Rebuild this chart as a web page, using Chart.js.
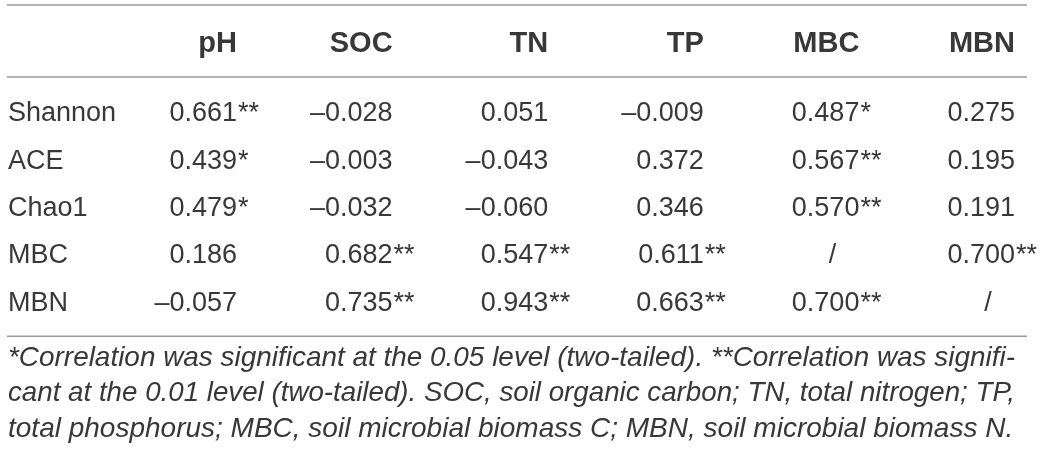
<!DOCTYPE html>
<html>
<head>
<meta charset="utf-8">
<script src="https://cdn.jsdelivr.net/npm/chart.js@4.4.0/dist/chart.umd.min.js"></script>
<style>
  html, body { margin: 0; padding: 0; background: #ffffff; }
  #wrap { width: 1042px; height: 460px; position: relative; }
</style>
</head>
<body>
<div id="wrap"><canvas id="myChart"></canvas></div>
<script>
'use strict';
/*---------------------------------*/
/*-------------Table Data----------*/
/*---------------------------------*/
let colLabels = ['pH', 'SOC', 'TN', 'TP', 'MBC', 'MBN'];
let rowLabels = ['Shannon', 'ACE', 'Chao1', 'MBC', 'MBN'];

// correlation values per row (null = same variable, shown as "/")
let shannonVals = [0.661, -0.028, 0.051, -0.009, 0.487, 0.275];
let aceVals = [0.439, -0.003, -0.043, 0.372, 0.567, 0.195];
let chao1Vals = [0.479, -0.032, -0.060, 0.346, 0.570, 0.191];
let mbcVals = [0.186, 0.682, 0.547, 0.611, null, 0.700];
let mbnVals = [-0.057, 0.735, 0.943, 0.663, 0.700, null];

// significance marks per row
let shannonSig = ['**', '', '', '', '*', ''];
let aceSig = ['*', '', '', '', '**', ''];
let chao1Sig = ['*', '', '', '', '**', ''];
let mbcSig = ['', '**', '**', '**', '', '**'];
let mbnSig = ['', '**', '**', '**', '**', ''];

let footnoteLines = [
  '*Correlation was significant at the 0.05 level (two-tailed). **Correlation was signifi-',
  'cant at the 0.01 level (two-tailed). SOC, soil organic carbon; TN, total nitrogen; TP,',
  'total phosphorus; MBC, soil microbial biomass C; MBN, soil microbial biomass N.'
];

let allVals = [shannonVals, aceVals, chao1Vals, mbcVals, mbnVals];
let allSig = [shannonSig, aceSig, chao1Sig, mbcSig, mbnSig];

/*---------------------------------*/
/*-------------Styling-------------*/
/*---------------------------------*/
const FONT = "'Liberation Sans', Arial, Helvetica, sans-serif";
const TEXT_COLOR = '#383838';
const RULE_COLOR = '#9a9a9a';

/*---------------------------------*/
/*------Datasets (one per row)-----*/
/*---------------------------------*/
let datasets = [];
for (let i = 0; i < rowLabels.length; i++) {
  let points = [];
  for (let j = 0; j < colLabels.length; j++) {
    points.push({ x: colLabels[j], y: i });
  }
  datasets.push({
    label: rowLabels[i],
    data: points,
    cellValues: allVals[i],
    cellSig: allSig[i],
    pointRadius: 0,
    pointHoverRadius: 0,
    showLine: false
  });
}

/*---------------------------------*/
/*--------Cell + Rule Plugin-------*/
/*---------------------------------*/
const tablePlugin = {
  id: 'tablePlugin',
  afterDatasetsDraw(chart) {
    const ctx = chart.ctx;
    ctx.save();
    ctx.font = '27px ' + FONT;
    ctx.fillStyle = TEXT_COLOR;
    ctx.textBaseline = 'middle';
    chart.data.datasets.forEach((ds, i) => {
      const meta = chart.getDatasetMeta(i);
      meta.data.forEach((pt, j) => {
        const v = ds.cellValues[j];
        if (v === null) {
          // diagonal cell
          ctx.textAlign = 'center';
          ctx.fillText('/', pt.x - 27, pt.y);
          return;
        }
        // numeric part right-aligned on the column tick, stars trail after it
        let txt = Math.abs(v).toFixed(3);
        if (v < 0) txt = '\u2013' + txt;
        ctx.textAlign = 'right';
        ctx.fillText(txt, pt.x, pt.y);
        if (ds.cellSig[j]) {
          ctx.textAlign = 'left';
          ctx.fillText(ds.cellSig[j], pt.x + 1, pt.y);
        }
      });
    });

    // horizontal rules: top of table, under header, bottom of table
    const x0 = 7;
    const x1 = chart.width - 15;
    ctx.strokeStyle = RULE_COLOR;
    ctx.lineWidth = 1.5;
    [chart.scales.x.top, chart.chartArea.top, chart.chartArea.bottom].forEach((y) => {
      ctx.beginPath();
      ctx.moveTo(x0, y);
      ctx.lineTo(x1, y);
      ctx.stroke();
    });
    ctx.restore();
  }
};

/*---------------------------------*/
/*------------Chart Setup----------*/
/*---------------------------------*/
const config = {
  type: 'scatter',
  data: { datasets: datasets },
  options: {
    responsive: true,
    maintainAspectRatio: false,
    animation: false,
    events: [],
    layout: { padding: { left: 8, right: 27, top: 5, bottom: 0 } },
    plugins: {
      legend: { display: false },
      tooltip: { enabled: false },
      title: {
        display: true,
        position: 'bottom',
        align: 'start',
        text: footnoteLines,
        color: TEXT_COLOR,
        font: { family: FONT, size: 28, style: 'italic', weight: 'normal', lineHeight: 1.27 },
        padding: { top: 4, bottom: 13 }
      }
    },
    scales: {
      x: {
        type: 'category',
        labels: colLabels,
        position: 'top',
        offset: false,
        grid: { display: false, drawTicks: false },
        border: { display: false },
        ticks: {
          align: 'end',
          autoSkip: false,
          maxRotation: 0,
          padding: 16,
          color: TEXT_COLOR,
          font: { family: FONT, size: 29, weight: 'bold' }
        },
        afterFit(scale) { scale.height = 72; }
      },
      y: {
        type: 'linear',
        reverse: true,
        min: -0.78,
        max: 4.70,
        grid: { display: false, drawTicks: false },
        border: { display: false },
        afterBuildTicks(scale) {
          scale.ticks = rowLabels.map((r, i) => ({ value: i }));
        },
        ticks: {
          crossAlign: 'far',
          padding: 0,
          color: TEXT_COLOR,
          font: { family: FONT, size: 27 },
          callback: (v) => rowLabels[v]
        },
        afterFit(scale) { scale.width = 229; }
      }
    }
  },
  plugins: [tablePlugin]
};

const myChart = new Chart(document.getElementById('myChart'), config);
</script>
</body>
</html>
